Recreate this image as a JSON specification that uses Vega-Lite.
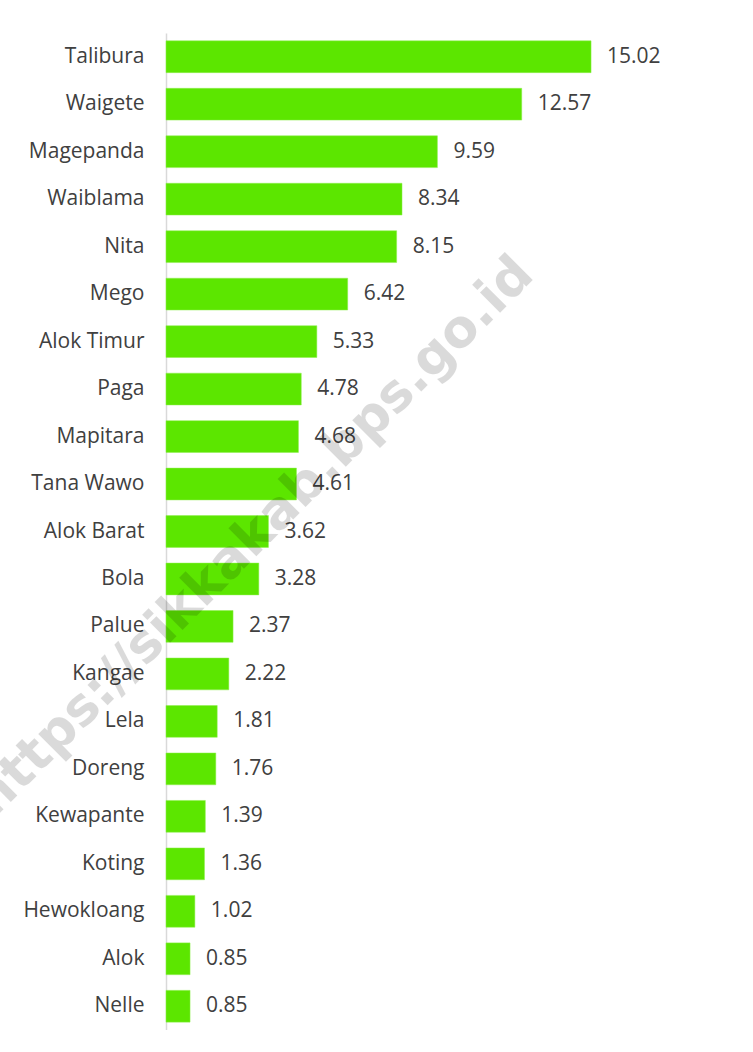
{
  "$schema": "https://vega.github.io/schema/vega-lite/v6.json",
  "autosize": {"type": "none"},
  "padding": {"left": 166, "top": 33, "right": 0, "bottom": 0},
  "width": 566,
  "height": 997,
  "background": "white",
  "config": {"view": {"stroke": null}, "font": "Open Sans"},
  "data": {"values": [
    {"kecamatan": "Talibura", "nilai": 15.02},
    {"kecamatan": "Waigete", "nilai": 12.57},
    {"kecamatan": "Magepanda", "nilai": 9.59},
    {"kecamatan": "Waiblama", "nilai": 8.34},
    {"kecamatan": "Nita", "nilai": 8.15},
    {"kecamatan": "Mego", "nilai": 6.42},
    {"kecamatan": "Alok Timur", "nilai": 5.33},
    {"kecamatan": "Paga", "nilai": 4.78},
    {"kecamatan": "Mapitara", "nilai": 4.68},
    {"kecamatan": "Tana Wawo", "nilai": 4.61},
    {"kecamatan": "Alok Barat", "nilai": 3.62},
    {"kecamatan": "Bola", "nilai": 3.28},
    {"kecamatan": "Palue", "nilai": 2.37},
    {"kecamatan": "Kangae", "nilai": 2.22},
    {"kecamatan": "Lela", "nilai": 1.81},
    {"kecamatan": "Doreng", "nilai": 1.76},
    {"kecamatan": "Kewapante", "nilai": 1.39},
    {"kecamatan": "Koting", "nilai": 1.36},
    {"kecamatan": "Hewokloang", "nilai": 1.02},
    {"kecamatan": "Alok", "nilai": 0.85},
    {"kecamatan": "Nelle", "nilai": 0.85}
  ]},
  "encoding": {
    "y": {
      "field": "kecamatan", "type": "nominal", "sort": null,
      "scale": {"paddingInner": 0.33, "paddingOuter": 0.165},
      "axis": {"title": null, "ticks": false, "domainColor": "#d9d9d9", "domainWidth": 1.5,
               "labelFontSize": 21, "labelColor": "#404040", "labelPadding": 22, "labelFont": "Open Sans"}
    },
    "x": {"field": "nilai", "type": "quantitative", "scale": {"domain": [0, 20]}, "axis": null}
  },
  "layer": [
    {
      "mark": {"type": "bar", "color": "#5CE600", "stroke": "#8fef4f", "strokeWidth": 0.5}
    },
    {
      "mark": {"type": "text", "align": "left", "baseline": "middle", "dx": 16, "fontSize": 21, "color": "#404040", "font": "Open Sans"},
      "encoding": {
        "text": {"field": "nilai", "type": "quantitative", "format": ".2f"}
      }
    },
    {
      "transform": [{"filter": "datum.kecamatan === 'Alok Barat'"}],
      "mark": {"type": "text", "text": "https://sikkakab.bps.go.id", "angle": 315, "fontSize": 52, "fontWeight": "bold", "font": "DejaVu Sans", "color": "#000000", "opacity": 0.14, "align": "center", "baseline": "middle", "dx": -14, "dy": -7}
    }
  ]
}
